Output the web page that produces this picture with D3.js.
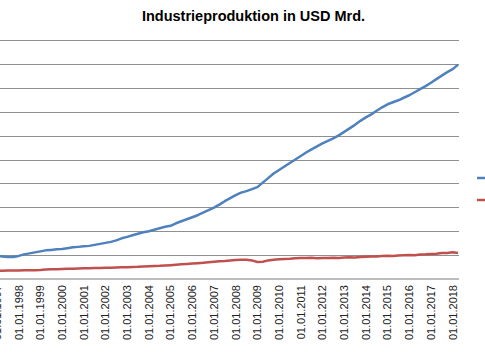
<!DOCTYPE html>
<html>
<head>
<meta charset="utf-8">
<script src="https://cdn.jsdelivr.net/npm/d3@7"></script>
<style>
  html, body { margin: 0; padding: 0; background: #fff; }
  svg { display: block; }
  text { font-family: "Liberation Sans", Arial, sans-serif; }
</style>
</head>
<body>
<svg id="chart" width="485" height="360"></svg>
<script>
// ---- Data (quarterly, from 01.01.1997 to 01.04.2018) ----
const title = "Industrieproduktion in USD Mrd.";
const startDate = "1997-01-01";
const yTicks = [0, 500, 1000, 1500, 2000, 2500, 3000, 3500, 4000, 4500, 5000];
const xTickYears = [1997, 1998, 1999, 2000, 2001, 2002, 2003, 2004, 2005, 2006, 2007,
                    2008, 2009, 2010, 2011, 2012, 2013, 2014, 2015, 2016, 2017, 2018];
const seriesBlue = [
  483, 473, 462, 462, 483, 515, 536, 557, 578, 599, 609, 620,
  630, 645, 662, 672, 683, 693, 714, 735, 756, 777, 809, 851,
  882, 914, 945, 977, 998, 1029, 1061, 1092, 1113, 1166, 1208, 1250,
  1292, 1334, 1387, 1439, 1492, 1555, 1628, 1691, 1754, 1807, 1838, 1880,
  1922, 2017, 2111, 2206, 2279, 2353, 2426, 2500, 2573, 2647, 2710, 2773,
  2836, 2889, 2941, 3004, 3078, 3151, 3225, 3309, 3382, 3445, 3519, 3592,
  3655, 3697, 3739, 3792, 3844, 3907, 3971, 4034, 4107, 4181, 4254, 4328,
  4391, 4485
];
const seriesRed = [
  174, 174, 176, 179, 179, 181, 183, 185, 189, 197, 204, 206,
  210, 212, 214, 218, 223, 225, 229, 231, 233, 235, 239, 244,
  248, 252, 256, 263, 269, 273, 277, 284, 290, 298, 307, 315,
  324, 332, 340, 351, 361, 370, 378, 389, 399, 403, 403, 389,
  357, 361, 389, 403, 414, 420, 426, 435, 441, 437, 445, 435,
  441, 437, 445, 441, 450, 454, 452, 460, 466, 473, 471, 479,
  487, 481, 492, 496, 502, 498, 513, 517, 525, 527, 542, 546,
  561, 546
];
const seriesColors = ["#4F81BD", "#C0504D"];

// ---- Layout ----
const svg = d3.select("#chart");
const plot = { left: -12, right: 459, top: 40, bottom: 279 };

const t0 = new Date(startDate + "T00:00:00");
const dates = d3.range(seriesBlue.length).map(i => d3.timeMonth.offset(t0, 3 * i));

const x = d3.scaleTime()
  .domain([new Date(1997, 0, 1), new Date(2018, 0, 1)])
  .range([-3, 452.7]);
const y = d3.scaleLinear().domain([0, 5000]).range([plot.bottom, plot.top]);

// gridlines
svg.append("g")
  .selectAll("line")
  .data(yTicks.filter(d => d > 0))
  .join("line")
  .attr("x1", plot.left).attr("x2", plot.right)
  .attr("y1", d => Math.round(y(d)) + 0.5).attr("y2", d => Math.round(y(d)) + 0.5)
  .attr("stroke", "#8f8f8f").attr("stroke-width", 1);

// x axis baseline
svg.append("line")
  .attr("x1", plot.left).attr("x2", plot.right)
  .attr("y1", y(0)).attr("y2", y(0))
  .attr("stroke", "#bdbdbd").attr("stroke-width", 2);

// x tick labels
const fmt = d3.timeFormat("%d.%m.%Y");
svg.append("g")
  .selectAll("text")
  .data(xTickYears.map(yr => new Date(yr, 0, 1)))
  .join("text")
  .attr("transform", d => `translate(${x(d)},285) rotate(-90)`)
  .attr("text-anchor", "end")
  .attr("dy", "0.35em")
  .attr("font-size", 11)
  .attr("fill", "#222")
  .text(d => fmt(d));

// lines
const line = d3.line()
  .x((d, i) => x(dates[i]))
  .y(d => y(d));

[seriesBlue, seriesRed].forEach((s, k) => {
  svg.append("path")
    .datum(s)
    .attr("fill", "none")
    .attr("stroke", seriesColors[k])
    .attr("stroke-width", 2.5)
    .attr("stroke-linejoin", "round")
    .attr("d", line);
});

// legend symbols (text falls outside the cropped frame)
const legendY = [178, 200];
svg.append("g")
  .selectAll("line")
  .data(seriesColors)
  .join("line")
  .attr("x1", 477).attr("x2", 490)
  .attr("y1", (d, i) => legendY[i]).attr("y2", (d, i) => legendY[i])
  .attr("stroke", d => d).attr("stroke-width", 2.5);

// title
svg.append("text")
  .attr("x", 253.5).attr("y", 21)
  .attr("text-anchor", "middle")
  .attr("font-size", 14.5)
  .attr("font-weight", "bold")
  .attr("fill", "#000")
  .text(title);
</script>
</body>
</html>
